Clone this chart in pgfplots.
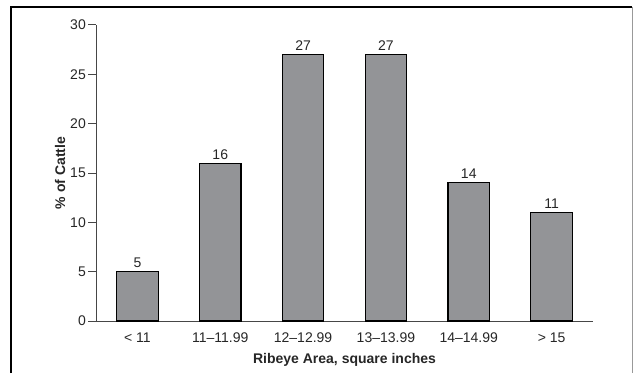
\documentclass[border=0pt]{standalone}
\usepackage{pgfplots}
\pgfplotsset{compat=1.18}
\usepackage{fontspec}
\setmainfont{Liberation Sans}
\definecolor{bargray}{RGB}{147,148,151}
\definecolor{axisgray}{RGB}{70,70,70}
\newcommand{\chartfont}{\fontsize{14bp}{16bp}\selectfont}
\begin{document}
\begin{tikzpicture}[x=1bp,y=1bp,font=\chartfont]
\useasboundingbox (0,0) rectangle (634,373);
% page frame
\draw[line width=2bp] (11,0) -- (11,366) -- (632,366);
\draw[black!40, line width=1bp] (632,366) -- (632,0);
\begin{axis}[
  at={(96bp,52bp)}, anchor=south west,
  scale only axis, width=497bp, height=296bp,
  xmin=-0.5, xmax=5.5, ymin=0, ymax=30,
  axis x line*=bottom, axis y line*=left,
  axis line style={axisgray, line width=1bp},
  every tick/.style={axisgray, line width=1bp},
  tick align=outside,
  major tick length=8bp,
  ytick={0,5,...,30},
  xtick={0,...,5},
  xticklabels={< 11, 11--11.99, 12--12.99, 13--13.99, 14--14.99, > 15},
  x tick style={draw=none},
  extra x ticks={-0.5,0.5,...,5.5},
  extra x tick labels={},
  extra x tick style={tick style={draw=axisgray, line width=1bp}, major tick length=7bp},
  every tick label/.append style={font=\chartfont, text=black!85},
  /pgf/number format/assume math mode=true,
  yticklabel style={inner sep=2bp},
  ylabel={\textbf{\% of Cattle}},
  ylabel style={at={(axis description cs:-0.0724,0.5)}, anchor=center, font=\chartfont, text=black!85},
  xlabel={\textbf{Ribeye Area, square inches}},
  xlabel style={at={(axis description cs:0.5,-0.1419)}, anchor=base, font=\chartfont, text=black!85},
  ybar, bar width=41.5bp,
  nodes near coords,
  every node near coord/.append style={font=\chartfont, text=black!85},
]
\addplot[fill=bargray, draw=black, line width=1.1bp] coordinates {
  (0,5) (1,16) (2,27) (3,27) (4,14) (5,11)
};
\end{axis}
\end{tikzpicture}
\end{document}
